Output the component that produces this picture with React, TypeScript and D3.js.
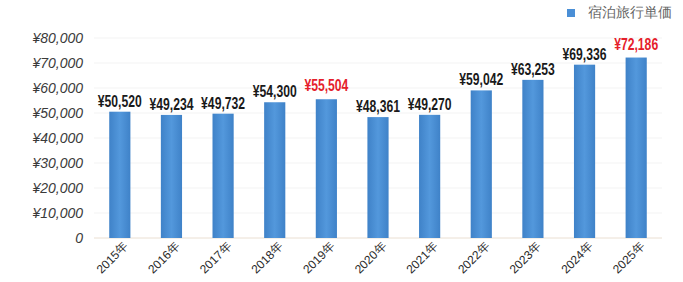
import React from "react";
import * as d3 from "d3";

const categories = ["2015年","2016年","2017年","2018年","2019年","2020年","2021年","2022年","2023年","2024年","2025年"];
const values = [50520, 49234, 49732, 54300, 55504, 48361, 49270, 59042, 63253, 69336, 72186];
const highlighted = ["2019年", "2025年"];
const yTicks = [0, 10000, 20000, 30000, 40000, 50000, 60000, 70000, 80000];
const seriesName = "宿泊旅行単価";

const W = 683, H = 282;
const plot = { left: 94, right: 662, top: 38, bottom: 238 };

export default function App() {
  const x = d3.scaleBand<string>().domain(categories).range([plot.left, plot.right]).paddingInner(0.59).paddingOuter(0.295);
  const y = d3.scaleLinear().domain([0, 80000]).range([plot.bottom, plot.top]);
  const yen = (v: number) => (v === 0 ? "0" : "¥" + d3.format(",")(v));
  const font = "'Liberation Sans', Arial, sans-serif";
  return (
    <svg width={W} height={H} style={{ position: "absolute", left: 0, top: 0, background: "#fff" }}>
      <defs>
        <linearGradient id="barg" x1="0" x2="1" y1="0" y2="0">
          <stop offset="0" stopColor="#3f82c8" />
          <stop offset="0.5" stopColor="#5398dc" />
          <stop offset="1" stopColor="#3f82c8" />
        </linearGradient>
      </defs>
      {yTicks.map((t) => (
        <g key={t}>
          <line x1={plot.left} x2={plot.right} y1={y(t)} y2={y(t)} stroke={t === 0 ? "#eadfd2" : "#f3f3f3"} strokeWidth={1} />
          <text x={83} y={y(t)} dy="0.35em" textAnchor="end" fontFamily={font} fontStyle="italic" fontSize={14} fill="#3a3a3a">
            {yen(t)}
          </text>
        </g>
      ))}
      {categories.map((c, i) => {
        const bx = x(c)!;
        const bw = x.bandwidth();
        const cx = bx + bw / 2;
        const red = highlighted.includes(c);
        return (
          <g key={c}>
            <rect x={bx} y={y(values[i])} width={bw} height={y(0) - y(values[i])} fill="url(#barg)" />
            <text x={cx} y={y(values[i]) - (red ? 8 : 5)} textAnchor="middle" fontFamily={font} fontWeight="bold" fontSize={16} fill={red ? "#e5202b" : "#1a1a1a"} transform={`translate(${cx},0) scale(0.76,1) translate(${-cx},0)`}>
              {yen(values[i])}
            </text>
            <text transform={`translate(${cx + 9},${plot.bottom + 9}) rotate(-45)`} textAnchor="end" fontFamily={font} fontSize={12} fill="#2a2a2a">
              {c}
            </text>
          </g>
        );
      })}
      <rect x={567} y={9} width={8} height={8} fill="#4a8fd6" />
      <text x={588} y={12} dy="0.35em" fontFamily={font} fontSize={13.5} fill="#666">{seriesName}</text>
    </svg>
  );
}
